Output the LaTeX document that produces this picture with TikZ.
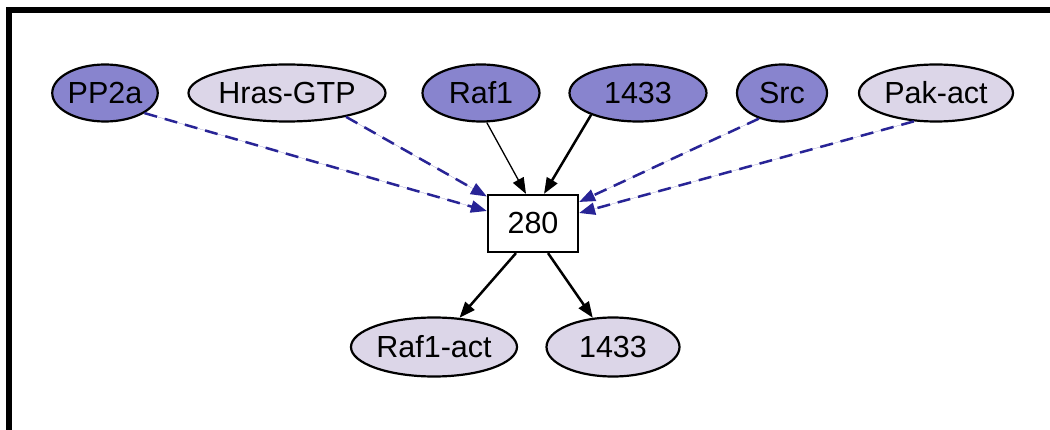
\documentclass[tikz,border=0pt]{standalone}
\usepackage{fontspec}
\setmainfont{Liberation Sans}
\usetikzlibrary{arrows.meta,shapes.geometric}
\definecolor{darkp}{RGB}{136,132,206}
\definecolor{lightp}{RGB}{220,214,232}
\definecolor{edgeblue}{RGB}{40,36,150}
\tikzset{
  every node/.style={font=\fontsize{30.5}{35}\selectfont, inner sep=0pt},
  dnode/.style={ellipse, draw=black, line width=2.2pt, fill=darkp, minimum height=57pt},
  lnode/.style={ellipse, draw=black, line width=2.2pt, fill=lightp, minimum height=57pt},
  boxnode/.style={rectangle, draw=black, line width=2.2pt, fill=white, minimum width=90pt, minimum height=57pt},
  tip/.style={-{Triangle[length=16pt,width=12pt]}},
  inhib/.style={tip, draw=edgeblue, fill=edgeblue, line width=2.5pt, dash pattern=on 13pt off 8pt},
  act/.style={tip, draw=black, line width=2.5pt},
  thinact/.style={tip, draw=black, line width=1.3pt},
}
\begin{document}
\begin{tikzpicture}[x=1pt,y=-1pt]
\useasboundingbox (0,0) rectangle (1050,430);
\clip (0,0) rectangle (1050,430);
\fill[white] (0,0) rectangle (1050,430);
\draw[line width=6pt] (8.5,10) rectangle (1200,600);
\node[dnode, minimum width=102pt] (pp2a) at (105,93) {PP2a};
\node[lnode, minimum width=197pt] (hras) at (287,93) {Hras-GTP};
\node[dnode, minimum width=117pt] (raf1) at (481,93) {Raf1};
\node[dnode, minimum width=137pt] (f1433) at (638,93) {1433};
\node[dnode, minimum width=90pt] (src) at (782,93) {Src};
\node[lnode, minimum width=154pt] (pak) at (936,93) {Pak-act};
\node[boxnode] (box) at (533,223.5) {280};
\node[lnode, minimum width=166pt, minimum height=59pt] (rafact) at (434,347) {Raf1-act};
\node[lnode, minimum width=133pt, minimum height=59pt] (b1433) at (613,347) {1433};
\coordinate (inA) at ([yshift=12.5pt]box.west);
\coordinate (inB) at ([yshift=27pt]box.west);
\coordinate (inC) at ([xshift=-7pt]box.north);
\coordinate (inD) at ([xshift=11pt]box.north);
\coordinate (inE) at ([yshift=21.5pt]box.east);
\coordinate (inF) at ([yshift=10.5pt]box.east);
\coordinate (outA) at ([xshift=-17pt]box.south);
\coordinate (outB) at ([xshift=15pt]box.south);
\draw[inhib] (pp2a.-27) -- (inA);
\draw[inhib] (hras.-22) -- (inB);
\draw[thinact] (raf1.-79) -- (inC);
\draw[act] (f1433.205) -- (inD);
\draw[inhib] (src.228) -- (inE);
\draw[inhib] (pak.232) -- (inF);
\draw[act] (outA) -- (rafact);
\draw[act] (outB) -- (b1433);
\end{tikzpicture}
\end{document}
